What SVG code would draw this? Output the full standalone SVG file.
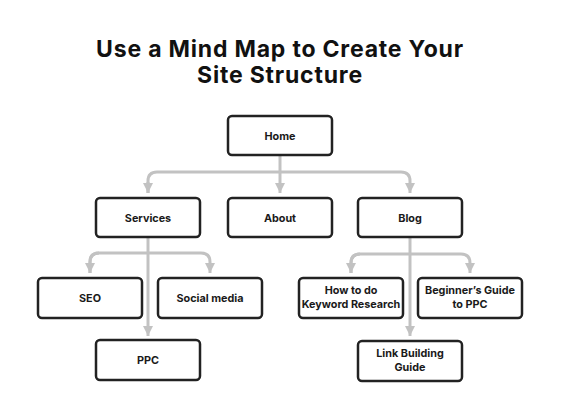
<svg xmlns="http://www.w3.org/2000/svg" width="561" height="400" viewBox="0 0 561 400">
<defs>
<marker id="ah" markerUnits="userSpaceOnUse" markerWidth="12" markerHeight="10" refX="10" refY="5" orient="auto">
<path d="M0,0 L10,5 L0,10 Z" fill="#c2c2c2"/>
</marker>
<style>
.box{fill:#fff;stroke:#222;stroke-width:2.5}
.lbl{font-family:Inter,"Liberation Sans",sans-serif;font-weight:700;font-size:10.8px;fill:#1a1a1a;text-anchor:middle}
.ttl{font-family:Inter,"Liberation Sans",sans-serif;font-weight:700;font-size:23px;letter-spacing:0.8px;fill:#111;text-anchor:middle}
.con{fill:none;stroke:#c2c2c2;stroke-width:3}
</style>
</defs>
<rect width="561" height="400" fill="#fff"/>
<text class="ttl" x="280" y="57">Use a Mind Map to Create Your</text>
<text class="ttl" x="280" y="83">Site Structure</text>
<g id="connectors">
<path class="con" d="M280,156 V193" marker-end="url(#ah)"/>
<path class="con" d="M148,193 V181 Q148,172 157,172 H401 Q410,172 410,181 V193" marker-end="url(#ah)"/>
<path class="con" d="M148,182 V193" marker-end="url(#ah)"/>
<path class="con" d="M148,238 V336" marker-end="url(#ah)"/>
<path class="con" d="M90,273 V262 Q90,253 99,253 H201 Q210,253 210,262 V273" marker-end="url(#ah)"/>
<path class="con" d="M99,253 Q90,253 90,262 V273" marker-end="url(#ah)"/>
<path class="con" d="M410,238 V336" marker-end="url(#ah)"/>
<path class="con" d="M351,273 V263 Q351,254 360,254 H461 Q470,254 470,263 V273" marker-end="url(#ah)"/>
<path class="con" d="M360,254 Q351,254 351,263 V273" marker-end="url(#ah)"/>
</g>
<g id="home"><rect class="box" x="228" y="116" width="104" height="39" rx="4"/><text class="lbl" x="280" y="139.5">Home</text></g>
<g id="services"><rect class="box" x="96" y="198" width="104" height="39" rx="4"/><text class="lbl" x="148" y="221.5">Services</text></g>
<g id="about"><rect class="box" x="228" y="198" width="104" height="39" rx="4"/><text class="lbl" x="280" y="221.5">About</text></g>
<g id="blog"><rect class="box" x="358" y="198" width="104" height="39" rx="4"/><text class="lbl" x="410" y="221.5">Blog</text></g>
<g id="seo"><rect class="box" x="38" y="278" width="104" height="40" rx="4"/><text class="lbl" x="90" y="302">SEO</text></g>
<g id="social"><rect class="box" x="158" y="278" width="104" height="40" rx="4"/><text class="lbl" x="210" y="302">Social media</text></g>
<g id="ppc"><rect class="box" x="96" y="340" width="104" height="40" rx="4"/><text class="lbl" x="148" y="364">PPC</text></g>
<g id="keyword"><rect class="box" x="299" y="278" width="104" height="40" rx="4"/><text class="lbl" x="351" y="294">How to do</text><text class="lbl" x="351" y="307.5">Keyword Research</text></g>
<g id="beginner"><rect class="box" x="418" y="278" width="104" height="40" rx="4"/><text class="lbl" x="470" y="294">Beginner’s Guide</text><text class="lbl" x="470" y="307.5">to PPC</text></g>
<g id="link"><rect class="box" x="358" y="341" width="104" height="40" rx="4"/><text class="lbl" x="410" y="357">Link Building</text><text class="lbl" x="410" y="370.5">Guide</text></g>
</svg>
